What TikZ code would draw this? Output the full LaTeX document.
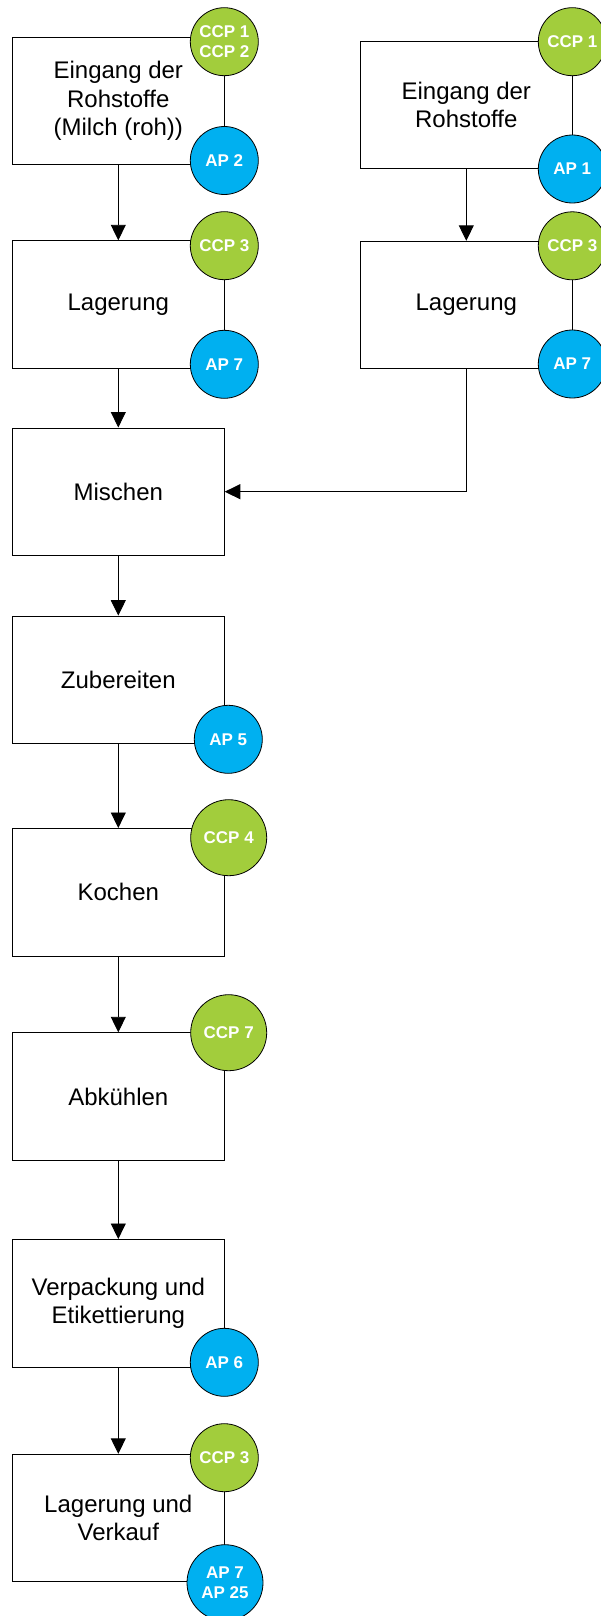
\documentclass[tikz,border=0pt]{standalone}
\usepackage{fontspec}
\setmainfont{Liberation Sans}
\usetikzlibrary{arrows.meta}
\definecolor{ccpgreen}{RGB}{162,205,60}
\definecolor{apblue}{RGB}{0,176,240}
\definecolor{edgegray}{RGB}{70,70,70}
\tikzset{
  stepbox/.style={draw=black, line width=0.9pt, fill=white, rectangle, minimum width=212pt, minimum height=127.5pt, inner sep=0pt, align=center, font=\fontsize{24pt}{28.3pt}\selectfont},
  badge/.style={draw=black, line width=0.8pt, circle, inner sep=0pt, align=center, text=white, font=\fontsize{17pt}{20.7pt}\selectfont\bfseries},
  ccp/.style={badge, fill=ccpgreen},
  ap/.style={badge, fill=apblue},
  flow/.style={draw=black, line width=0.9pt, -{Triangle[length=15.5pt,width=15pt]}}
}
\begin{document}
\begin{tikzpicture}[x=1pt,y=-1pt]
\useasboundingbox (0,0) rectangle (601,1616);
% boxes
\node[stepbox] (L1) at (118.3,101) {Eingang der\\Rohstoffe\\(Milch (roh))};
\node[stepbox] (L2) at (118.3,304.5) {Lagerung};
\node[stepbox] (L3) at (118.3,491.7) {Mischen};
\node[stepbox] (L4) at (118.3,679.8) {Zubereiten};
\node[stepbox] (L5) at (118.3,892.2) {Kochen};
\node[stepbox] (L6) at (118.3,1096.5) {Abkühlen};
\node[stepbox] (L7) at (118.3,1303.2) {Verpackung und\\Etikettierung};
\node[stepbox] (L8) at (118.3,1518) {Lagerung und\\Verkauf};
\node[stepbox] (R1) at (466.3,105.2) {Eingang der\\Rohstoffe};
\node[stepbox] (R2) at (466.3,305) {Lagerung};
% connectors
\draw[flow] (L1.south) -- (L2.north);
\draw[flow] (L2.south) -- (L3.north);
\draw[flow] (L3.south) -- (L4.north);
\draw[flow] (L4.south) -- (L5.north);
\draw[flow] (L5.south) -- (L6.north);
\draw[flow] (L6.south) -- (L7.north);
\draw[flow] (L7.south) -- (L8.north);
\draw[flow] (R1.south) -- (R2.north);
\draw[flow] (R2.south) |- (L3.east);
% badges
\node[ccp, minimum size=68pt] (b1) at (224.3,41.7) {CCP 1\\CCP 2};
\node[ap, minimum size=68pt] (b2) at (224.3,160.5) {AP 2};
\node[ccp, minimum size=68pt] (b3) at (224.3,245.7) {CCP 3};
\node[ap, minimum size=68pt] (b4) at (224.3,364.3) {AP 7};
\node[ap, minimum size=68pt] (b5) at (228.3,739.3) {AP 5};
\node[ccp, minimum size=76pt] (b6) at (228.7,837.7) {CCP 4};
\node[ccp, minimum size=76pt] (b7) at (228.7,1032.7) {CCP 7};
\node[ap, minimum size=68pt] (b8) at (224.3,1362.3) {AP 6};
\node[ccp, minimum size=68pt] (b9) at (224.3,1457.7) {CCP 3};
\node[ap, minimum size=76pt] (b10) at (225,1582.7) {AP 7\\AP 25};
\node[ccp, minimum size=68pt] (b11) at (572.3,41.7) {CCP 1};
\node[ap, minimum size=68pt] (b12) at (572.3,169) {AP 1};
\node[ccp, minimum size=68pt] (b13) at (572.3,245.8) {CCP 3};
\node[ap, minimum size=68pt] (b14) at (572.3,364) {AP 7};
\end{tikzpicture}
\end{document}
